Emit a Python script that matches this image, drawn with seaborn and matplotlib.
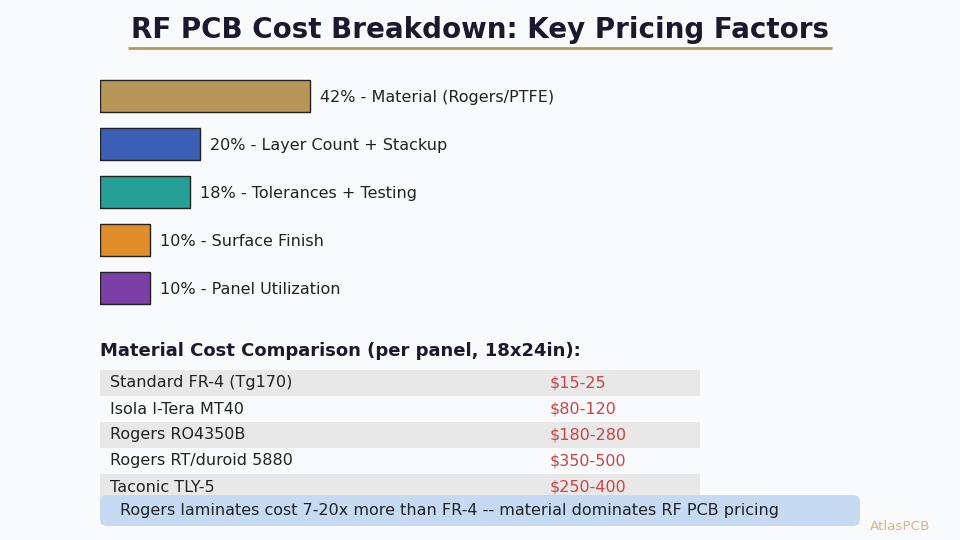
import matplotlib
matplotlib.use("Agg")
import matplotlib.pyplot as plt
from matplotlib.patches import Rectangle, FancyBboxPatch
import seaborn as sns
import pandas as pd

# cost breakdown
factors = ["Material (Rogers/PTFE)", "Layer Count + Stackup", "Tolerances + Testing",
           "Surface Finish", "Panel Utilization"]
shares = [42, 20, 18, 10, 10]
bar_colors = ["#B8965A", "#3B5FB5", "#26A096", "#E08E2B", "#7B3FA5"]

# material table
materials = ["Standard FR-4 (Tg170)", "Isola I-Tera MT40", "Rogers RO4350B",
             "Rogers RT/duroid 5880", "Taconic TLY-5"]
prices = ["$15-25", "$80-120", "$180-280", "$350-500", "$250-400"]

title = "RF PCB Cost Breakdown: Key Pricing Factors"
table_title = "Material Cost Comparison (per panel, 18x24in):"
note = "Rogers laminates cost 7-20x more than FR-4 -- material dominates RF PCB pricing"

bg = "#F8FAFC"
sns.set_style("white")
plt.rcParams["font.family"] = ["DejaVu Sans"]

fig = plt.figure(figsize=(9.6, 5.4), dpi=100, facecolor=bg)

# overlay in pixel coordinates
ov = fig.add_axes([0, 0, 1, 1])
ov.set_xlim(0, 960)
ov.set_ylim(540, 0)
ov.axis("off")
ov.set_facecolor(bg)

ov.text(480, 30, title, ha="center", va="center", fontsize=20,
        fontweight="bold", color="#1A1A2E")
ov.plot([128, 832], [48, 48], color="#B8965A", lw=2, solid_capstyle="butt")

ov.text(100, 351, table_title, ha="left", va="center", fontsize=13,
        fontweight="bold", color="#1A1A2E")
row_h = 26
y0 = 370
for i, (m, p) in enumerate(zip(materials, prices)):
    top = y0 + i * row_h
    if i % 2 == 0:
        ov.add_patch(Rectangle((100, top), 600, row_h, facecolor="#E8E8E8",
                               edgecolor="none"))
    ov.text(110, top + 13, m, ha="left", va="center", fontsize=11.5, color="#222222")
    ov.text(550, top + 13, p, ha="left", va="center", fontsize=11.5, color="#CC4444")

ov.add_patch(FancyBboxPatch((100, 495), 760, 31,
                            boxstyle="round,pad=0,rounding_size=7",
                            facecolor="#C6DBF3", edgecolor="none", zorder=3))
ov.text(120, 510, note, ha="left", va="center", fontsize=11.5, color="#222222", zorder=4)
ov.text(870, 527, "AtlasPCB", ha="left", va="center", fontsize=9.7,
        color="#D6B886")

# bars axes: 5 px per percent, 48 px per row
ax = fig.add_axes([100 / 960, (540 - 312) / 540, 500 / 960, 240 / 540])
ax.patch.set_alpha(0)
df = pd.DataFrame({"factor": factors, "share": shares})
sns.barplot(data=df, x="share", y="factor", hue="factor", palette=bar_colors,
            orient="h", width=0.667, edgecolor="#222222", linewidth=1,
            saturation=1, legend=False, ax=ax)
ax.set_xlim(0, 100)
ax.set_ylim(4.5, -0.5)
for i, (f, s) in enumerate(zip(factors, shares)):
    ax.text(s + 2, i + 0.03, f"{s}% - {f}", ha="left", va="center", fontsize=11.5,
            color="#222222")
ax.axis("off")

fig.savefig("out.png", dpi=100, facecolor=bg)
